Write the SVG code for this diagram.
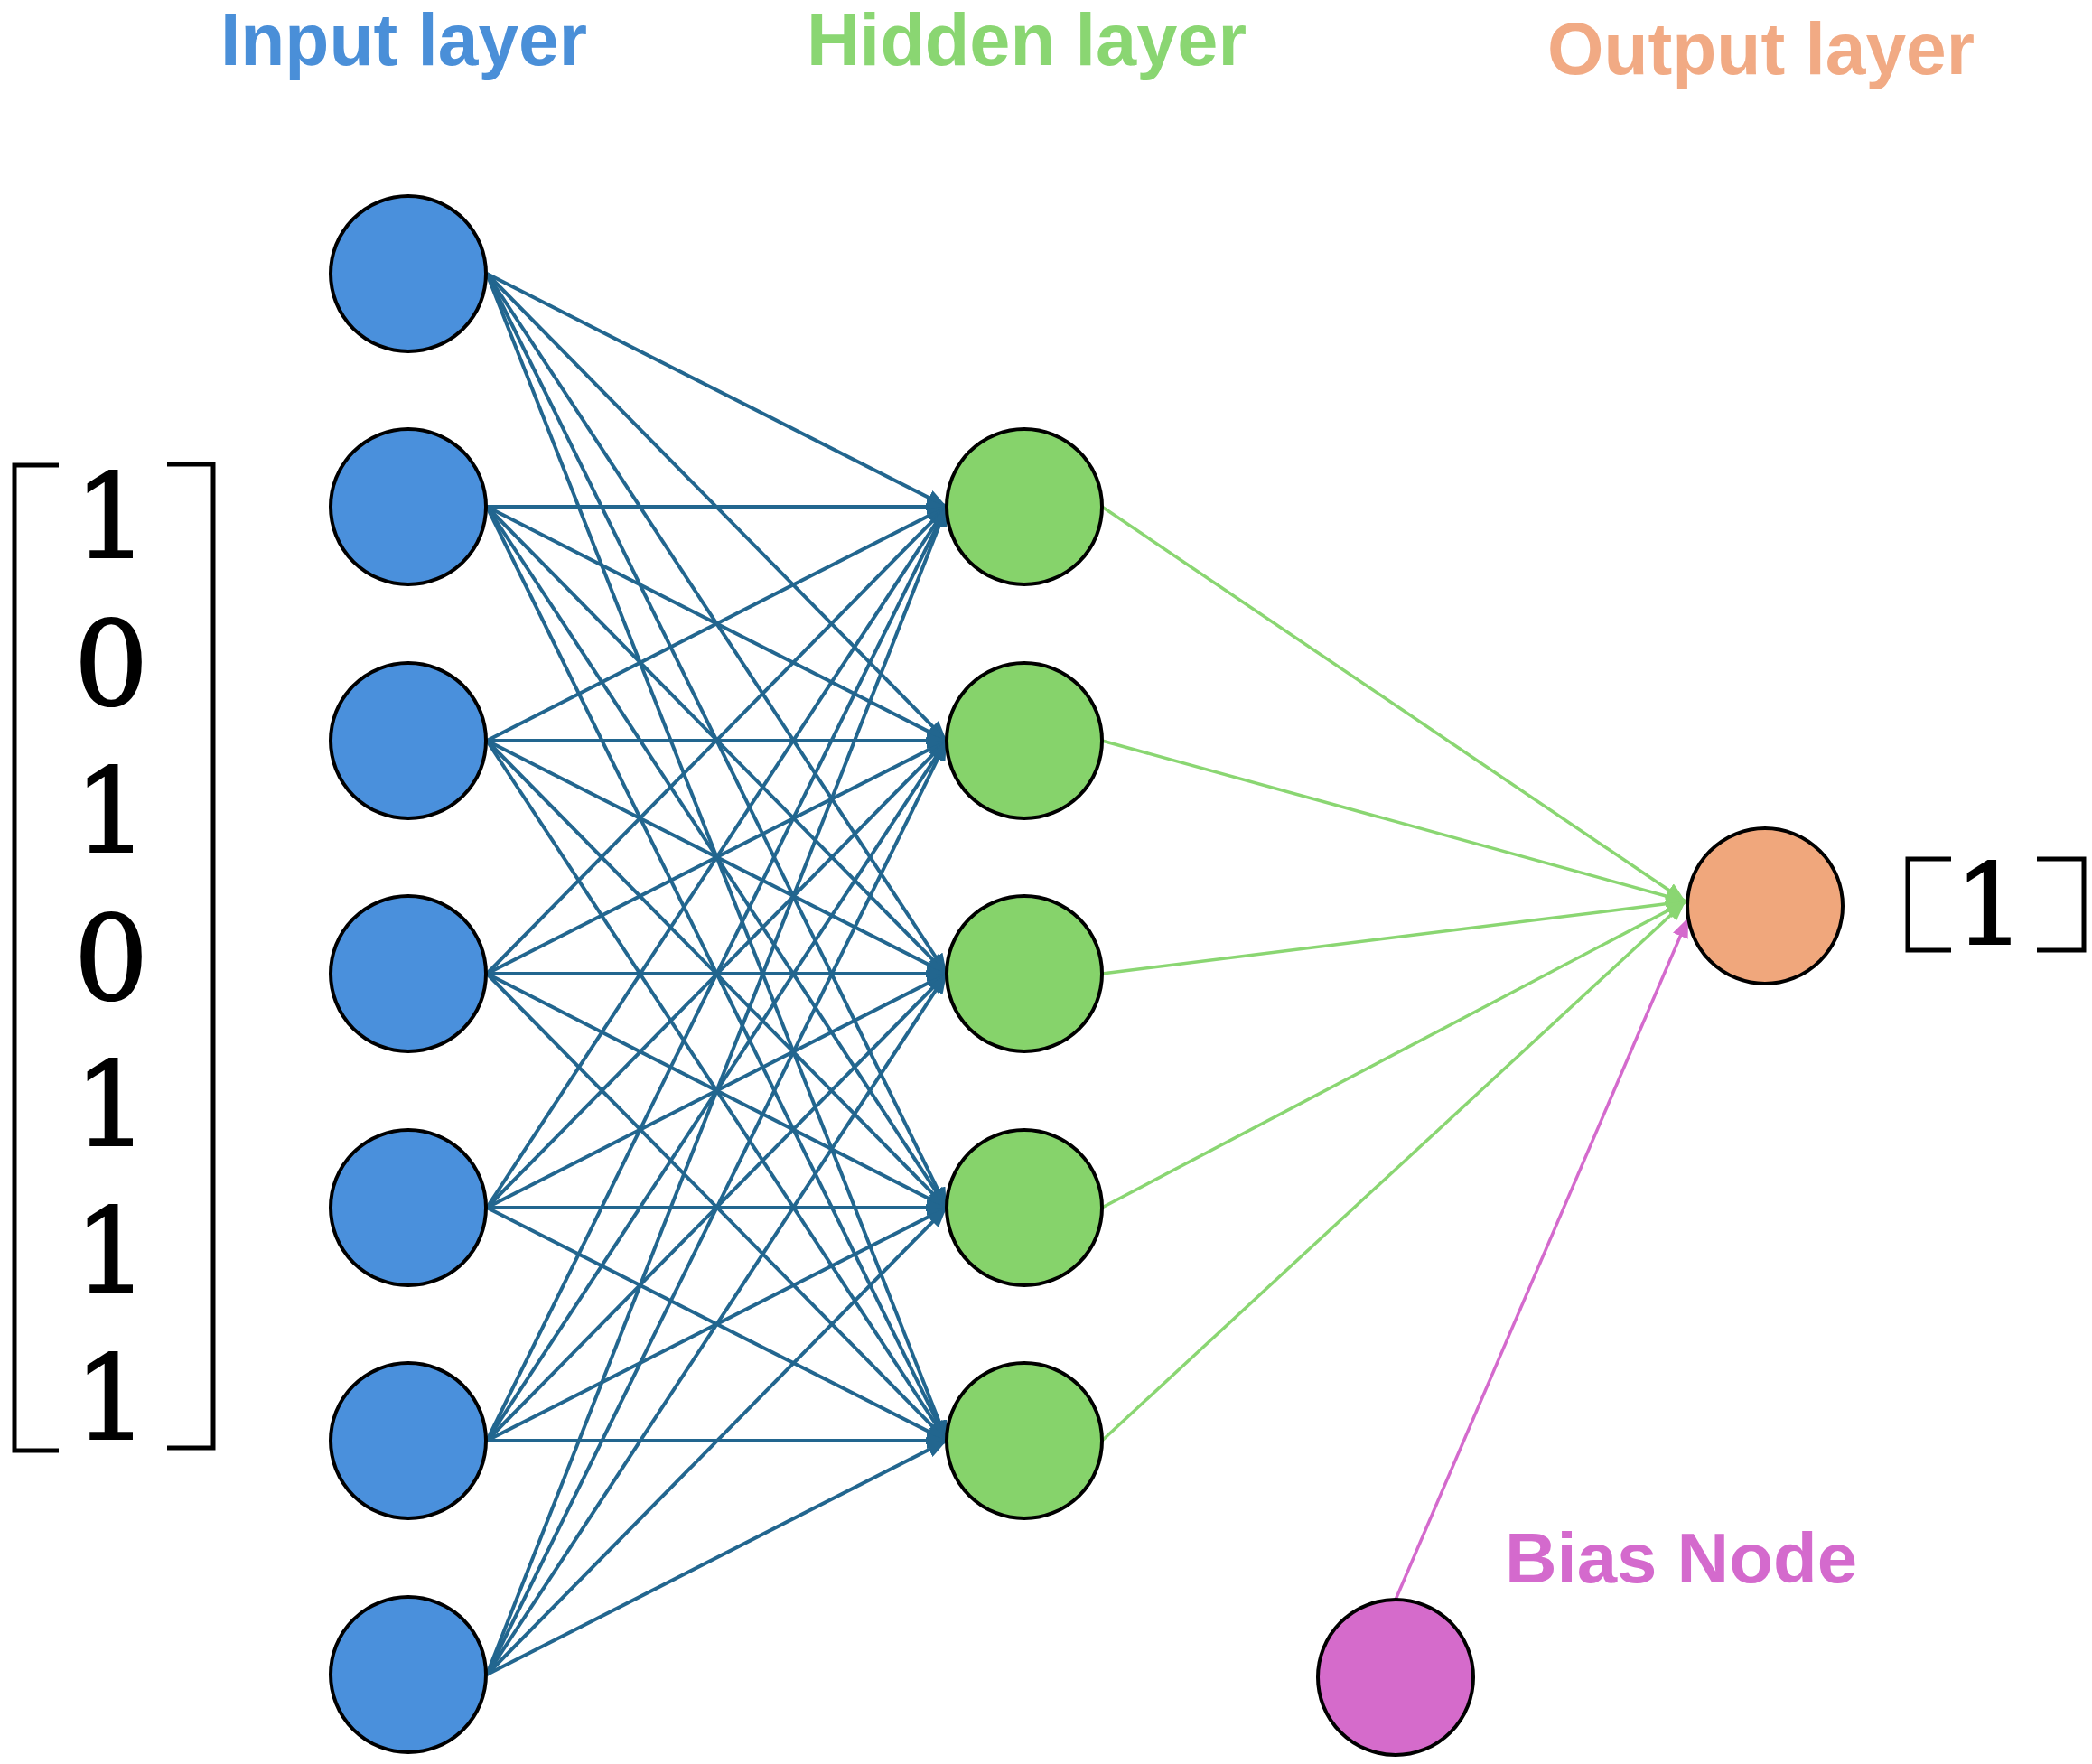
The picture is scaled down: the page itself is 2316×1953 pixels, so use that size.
<svg xmlns="http://www.w3.org/2000/svg" width="2316" height="1953" viewBox="0 0 2316 1953">
<style>
.title{font-family:"Liberation Sans",Arial,sans-serif;font-weight:bold;font-size:82px}
.digit{font-family:"DejaVu Serif","Liberation Serif",serif;font-size:130px;fill:#000;stroke:#000;stroke-width:2;text-anchor:middle}
.node{stroke:#000;stroke-width:4}
.in{fill:#4A90DC}
.hid{fill:#86D36B}
.out{fill:#F0A77C}
.bias{fill:#D56BCB}
.e1{stroke:#22668F;stroke-width:4;fill:none}
.e2{stroke:#8AD672;stroke-width:3.5;fill:none}
.e3{stroke:#D46ACD;stroke-width:3.5;fill:none}
.br{stroke:#000;stroke-width:5;fill:none}
</style>
<defs>
<marker id="ab" markerUnits="userSpaceOnUse" markerWidth="24" markerHeight="18" refX="22" refY="9" orient="auto"><path d="M0,0 L22,9 L0,18 Z" fill="#22668F"/></marker>
<marker id="ag" markerUnits="userSpaceOnUse" markerWidth="24" markerHeight="18" refX="22" refY="9" orient="auto"><path d="M0,0 L22,9 L0,18 Z" fill="#8AD672"/></marker>
<marker id="ap" markerUnits="userSpaceOnUse" markerWidth="24" markerHeight="18" refX="22" refY="9" orient="auto"><path d="M0,0 L22,9 L0,18 Z" fill="#D46ACD"/></marker>
</defs>
<rect width="2316" height="1953" fill="#fff"/>
<g id="titles">
<text class="title" x="244" y="72" fill="#4A8FD8" textLength="406" lengthAdjust="spacingAndGlyphs">Input layer</text>
<text class="title" x="893" y="72" fill="#8AD672" textLength="487" lengthAdjust="spacingAndGlyphs">Hidden layer</text>
<text class="title" x="1713" y="82" fill="#F1AA84" textLength="473" lengthAdjust="spacingAndGlyphs">Output layer</text>
</g>
<g id="connectors">
<g class="e1" marker-end="url(#ab)">
<line x1="539" y1="303" x2="1048" y2="561"/><line x1="539" y1="303" x2="1048" y2="820"/><line x1="539" y1="303" x2="1048" y2="1078"/><line x1="539" y1="303" x2="1048" y2="1337"/><line x1="539" y1="303" x2="1048" y2="1595"/>
<line x1="539" y1="561" x2="1048" y2="561"/><line x1="539" y1="561" x2="1048" y2="820"/><line x1="539" y1="561" x2="1048" y2="1078"/><line x1="539" y1="561" x2="1048" y2="1337"/><line x1="539" y1="561" x2="1048" y2="1595"/>
<line x1="539" y1="820" x2="1048" y2="561"/><line x1="539" y1="820" x2="1048" y2="820"/><line x1="539" y1="820" x2="1048" y2="1078"/><line x1="539" y1="820" x2="1048" y2="1337"/><line x1="539" y1="820" x2="1048" y2="1595"/>
<line x1="539" y1="1078" x2="1048" y2="561"/><line x1="539" y1="1078" x2="1048" y2="820"/><line x1="539" y1="1078" x2="1048" y2="1078"/><line x1="539" y1="1078" x2="1048" y2="1337"/><line x1="539" y1="1078" x2="1048" y2="1595"/>
<line x1="539" y1="1337" x2="1048" y2="561"/><line x1="539" y1="1337" x2="1048" y2="820"/><line x1="539" y1="1337" x2="1048" y2="1078"/><line x1="539" y1="1337" x2="1048" y2="1337"/><line x1="539" y1="1337" x2="1048" y2="1595"/>
<line x1="539" y1="1595" x2="1048" y2="561"/><line x1="539" y1="1595" x2="1048" y2="820"/><line x1="539" y1="1595" x2="1048" y2="1078"/><line x1="539" y1="1595" x2="1048" y2="1337"/><line x1="539" y1="1595" x2="1048" y2="1595"/>
<line x1="539" y1="1854" x2="1048" y2="561"/><line x1="539" y1="1854" x2="1048" y2="820"/><line x1="539" y1="1854" x2="1048" y2="1078"/><line x1="539" y1="1854" x2="1048" y2="1337"/><line x1="539" y1="1854" x2="1048" y2="1595"/>
</g>
<g class="e2" marker-end="url(#ag)">
<line x1="1220" y1="561" x2="1866" y2="998"/><line x1="1220" y1="820" x2="1866" y2="998"/><line x1="1220" y1="1078" x2="1866" y2="998"/><line x1="1220" y1="1337" x2="1866" y2="998"/><line x1="1220" y1="1595" x2="1866" y2="998"/>
</g>
<line class="e3" x1="1545" y1="1771" x2="1869" y2="1016" marker-end="url(#ap)"/>
</g>
<g id="input-nodes">
<circle id="in1" class="node in" cx="452" cy="303" r="86"/>
<circle id="in2" class="node in" cx="452" cy="561" r="86"/>
<circle id="in3" class="node in" cx="452" cy="820" r="86"/>
<circle id="in4" class="node in" cx="452" cy="1078" r="86"/>
<circle id="in5" class="node in" cx="452" cy="1337" r="86"/>
<circle id="in6" class="node in" cx="452" cy="1595" r="86"/>
<circle id="in7" class="node in" cx="452" cy="1854" r="86"/>
</g>
<g id="hidden-nodes">
<circle id="h1" class="node hid" cx="1134" cy="561" r="86"/>
<circle id="h2" class="node hid" cx="1134" cy="820" r="86"/>
<circle id="h3" class="node hid" cx="1134" cy="1078" r="86"/>
<circle id="h4" class="node hid" cx="1134" cy="1337" r="86"/>
<circle id="h5" class="node hid" cx="1134" cy="1595" r="86"/>
</g>
<g id="output-node"><circle class="node out" cx="1954" cy="1003" r="86"/></g>
<g id="bias-node">
<circle class="node bias" cx="1545" cy="1857" r="86"/>
<text class="title" x="1666" y="1752" fill="#D46ACD" textLength="390" lengthAdjust="spacingAndGlyphs" style="font-size:78px">Bias Node</text>
</g>
<g id="input-vector">
<path class="br" d="M65,515 H16 V1606 H65"/>
<path class="br" d="M185,514 H236 V1603 H185"/>
<text class="digit" x="123" y="617">1</text>
<text class="digit" x="123" y="780">0</text>
<text class="digit" x="123" y="943">1</text>
<text class="digit" x="123" y="1106">0</text>
<text class="digit" x="123" y="1268">1</text>
<text class="digit" x="123" y="1430">1</text>
<text class="digit" x="123" y="1593">1</text>
</g>
<g id="output-vector">
<path class="br" d="M2160,951 H2112 V1052 H2160"/>
<path class="br" d="M2255,951 H2307 V1052 H2255"/>
<text class="digit" x="2203" y="1045" style="font-size:124px">1</text>
</g>
</svg>
